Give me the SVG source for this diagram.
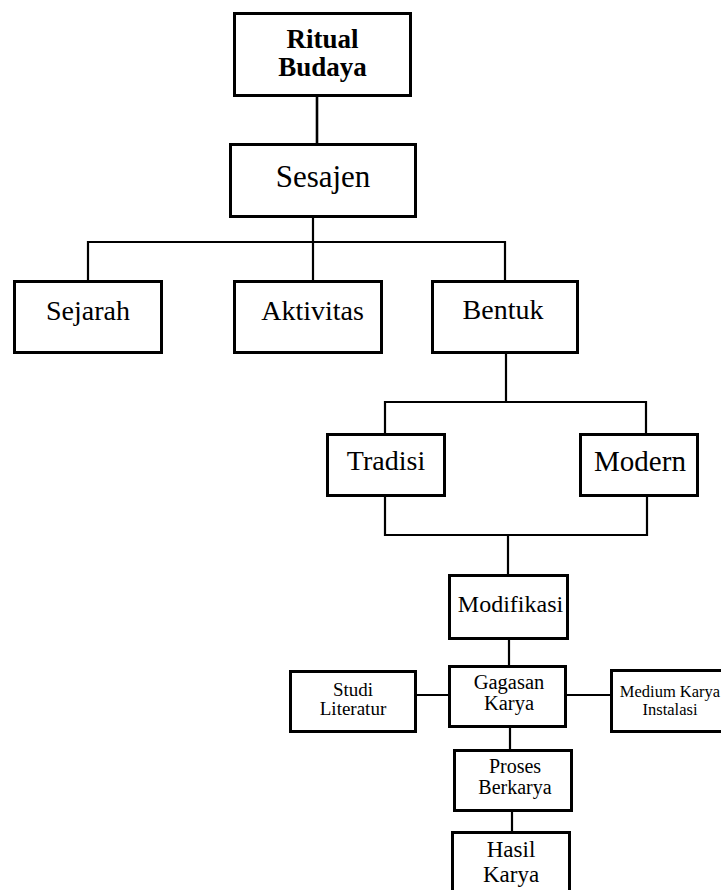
<svg xmlns="http://www.w3.org/2000/svg" width="721" height="890" viewBox="0 0 721 890">
<style>
.box{fill:#fff;stroke:#000;stroke-width:3}
.t{fill:#000;text-anchor:middle}
.c{fill:none;stroke:#000;stroke-width:2.2}
</style>
<rect width="721" height="890" fill="#fff"/>
<g id="connectors">
<path class="c" style="stroke-width:2.6" d="M317 97V143"/>
<path class="c" d="M313 218V280M88 280V242H505V280"/>
<path class="c" d="M506 354V402M385 433V402H646V433"/>
<path class="c" d="M385 497V535H647V497M508 535V574"/>
<path class="c" d="M509 640V665"/>
<path class="c" d="M417 695H448M567 695H610"/>
<path class="c" d="M510 728V749"/>
<path class="c" d="M512 812V831"/>
</g>
<g font-family="Liberation Serif, Times New Roman, DejaVu Serif, serif">
<g id="ritual"><rect class="box" x="234.5" y="13.5" width="176" height="82"/>
<text class="t" x="322.5" y="48" font-size="27" font-weight="bold">Ritual</text>
<text class="t" x="322.5" y="76" font-size="27" font-weight="bold">Budaya</text></g>
<g id="sesajen"><rect class="box" x="230.5" y="144.5" width="185" height="72"/>
<text class="t" x="323" y="187" font-size="31">Sesajen</text></g>
<g id="sejarah"><rect class="box" x="14.5" y="281.5" width="147" height="71"/>
<text class="t" x="88" y="320" font-size="28">Sejarah</text></g>
<g id="aktivitas"><rect class="box" x="234.5" y="281.5" width="147" height="71"/>
<text class="t" x="312.5" y="320" font-size="28">Aktivitas</text></g>
<g id="bentuk"><rect class="box" x="432.5" y="281.5" width="145" height="71"/>
<text class="t" x="503" y="319" font-size="28">Bentuk</text></g>
<g id="tradisi"><rect class="box" x="327.5" y="434.5" width="117" height="61"/>
<text class="t" x="386" y="470" font-size="28">Tradisi</text></g>
<g id="modern"><rect class="box" x="580.5" y="434.5" width="117" height="61"/>
<text class="t" x="640" y="471" font-size="29">Modern</text></g>
<g id="modifikasi"><rect class="box" x="449.5" y="575.5" width="118" height="63"/>
<text class="t" x="510.5" y="612" font-size="24">Modifikasi</text></g>
<g id="studi"><rect class="box" x="290.5" y="671.5" width="125" height="60"/>
<text class="t" x="353" y="696" font-size="19">Studi</text>
<text class="t" x="353" y="715" font-size="19">Literatur</text></g>
<g id="gagasan"><rect class="box" x="449.5" y="666.5" width="116" height="60"/>
<text class="t" x="509" y="689" font-size="20.5">Gagasan</text>
<text class="t" x="509" y="710" font-size="20.5">Karya</text></g>
<g id="medium"><rect class="box" x="611.5" y="670.5" width="120" height="61"/>
<text class="t" x="670" y="697" font-size="16.5">Medium Karya</text>
<text class="t" x="670" y="715" font-size="16.5">Instalasi</text></g>
<g id="proses"><rect class="box" x="454.5" y="750.5" width="117" height="60"/>
<text class="t" x="515" y="773" font-size="20">Proses</text>
<text class="t" x="515" y="794" font-size="20">Berkarya</text></g>
<g id="hasil"><rect class="box" x="452.5" y="832.5" width="117" height="70"/>
<text class="t" x="511" y="857" font-size="23">Hasil</text>
<text class="t" x="511" y="882" font-size="23">Karya</text></g>
</g>
</svg>
